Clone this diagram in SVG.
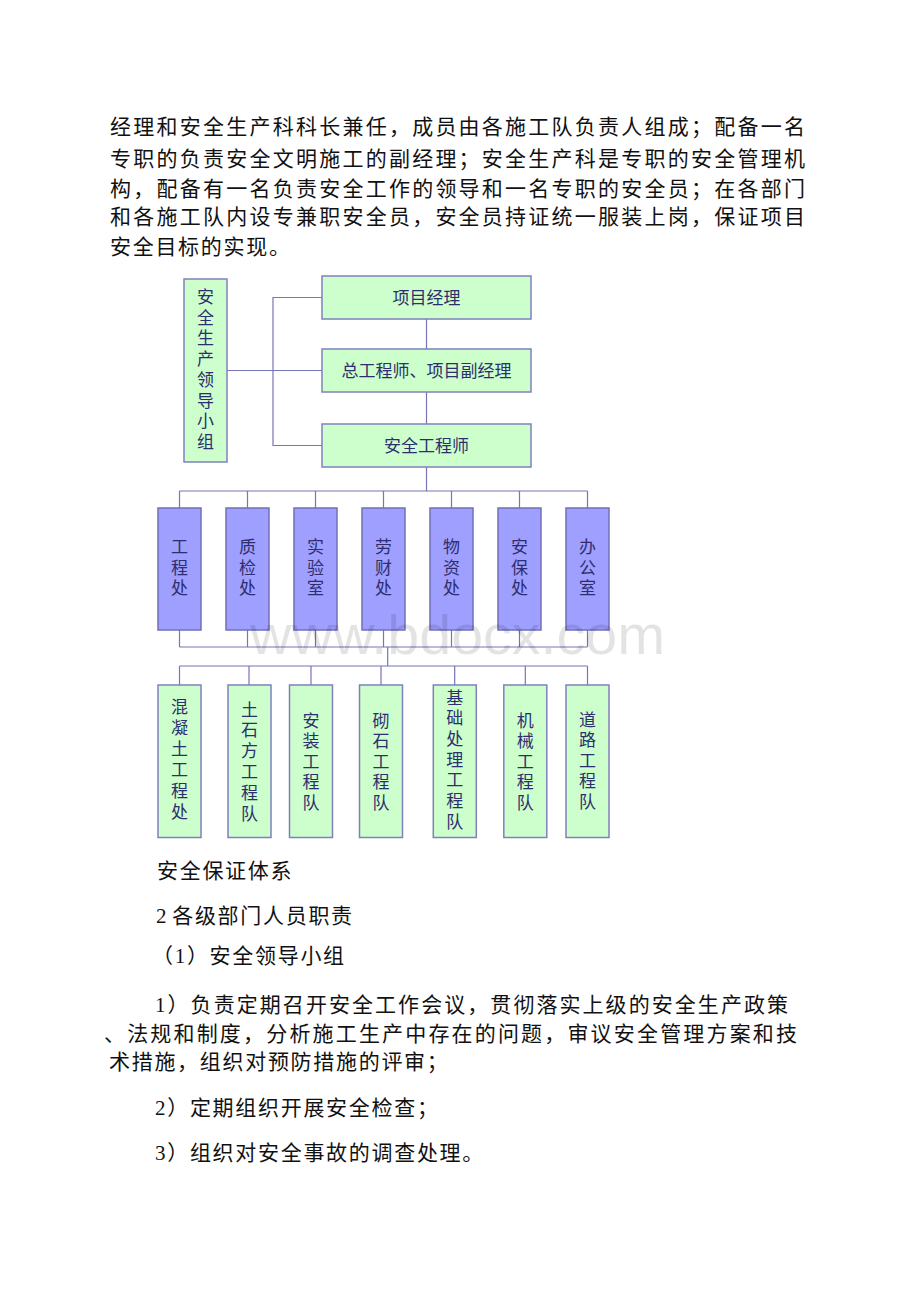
<svg xmlns="http://www.w3.org/2000/svg" width="920" height="1302" viewBox="0 0 920 1302">
<style>
.body{font-family:"Liberation Serif","Noto Sans CJK SC",serif;font-size:21px;fill:#111;letter-spacing:1.7px}
.jus{letter-spacing:0}
.lbl{font-family:"Liberation Serif","Noto Sans CJK SC",sans-serif;font-size:17px;fill:#2e2e6e;text-anchor:middle}
.g{fill:#ccffcc;stroke:#8080c0;stroke-width:1.5}
.p{fill:#9f9fff;stroke:#7070b8;stroke-width:1.5}
.ln{fill:none;stroke:#7575b8;stroke-width:1.2}
.wm{font-family:"Liberation Sans",Arial,sans-serif;font-size:56px;fill:#000;fill-opacity:0.11}
</style>
<rect width="920" height="1302" fill="#fff"/>
<g id="para-top">
<text class="body jus" x="110" y="134" textLength="695" lengthAdjust="spacing">经理和安全生产科科长兼任，成员由各施工队负责人组成；配备一名</text>
<text class="body jus" x="110" y="166" textLength="695" lengthAdjust="spacing">专职的负责安全文明施工的副经理；安全生产科是专职的安全管理机</text>
<text class="body jus" x="110" y="196" textLength="695" lengthAdjust="spacing">构，配备有一名负责安全工作的领导和一名专职的安全员；在各部门</text>
<text class="body jus" x="110" y="224" textLength="695" lengthAdjust="spacing">和各施工队内设专兼职安全员，安全员持证统一服装上岗，保证项目</text>
<text class="body" x="110" y="254">安全目标的实现。</text>
</g>
<g id="connectors">
<path class="ln" d="M426.5 319V349M426.5 392V424M426.5 467V491"/>
<path class="ln" d="M322 297.5H273V445.5H322M227 370.5H322"/>
<path class="ln" d="M179.5 491H587.5M179.5 491V508M247.5 491V508M315.5 491V508M383.5 491V508M451.5 491V508M519.5 491V508M587.5 491V508"/>
<path class="ln" d="M179.5 647H587.5M179.5 630V647M247.5 630V647M315.5 630V647M383.5 630V647M451.5 630V647M519.5 630V647M587.5 630V647"/>
<path class="ln" d="M387.7 647V666"/>
<path class="ln" d="M179.5 666H587.5M179.5 666V685M249 666V685M311 666V685M381 666V685M454.7 666V685M525.3 666V685M587.5 666V685"/>
</g>
<g id="n-lead">
<rect class="g" x="184" y="279" width="43" height="183"/>
<text class="lbl"><tspan x="205.5" y="303">安</tspan><tspan x="205.5" y="323.7">全</tspan><tspan x="205.5" y="344.4">生</tspan><tspan x="205.5" y="365.1">产</tspan><tspan x="205.5" y="385.8">领</tspan><tspan x="205.5" y="406.5">导</tspan><tspan x="205.5" y="427.2">小</tspan><tspan x="205.5" y="447.9">组</tspan></text>
</g>
<g id="n-pm">
<rect class="g" x="322" y="276" width="209" height="43"/>
<text class="lbl" x="426.5" y="304">项目经理</text>
</g>
<g id="n-chief">
<rect class="g" x="322" y="349" width="209" height="43"/>
<text class="lbl" x="426.5" y="377">总工程师、项目副经理</text>
</g>
<g id="n-safe">
<rect class="g" x="322" y="424" width="209" height="43"/>
<text class="lbl" x="426.5" y="452">安全工程师</text>
</g>
<g id="n-d1"><rect class="p" x="158" y="508" width="43" height="122"/><text class="lbl"><tspan x="179.5" y="553">工</tspan><tspan x="179.5" y="573.5">程</tspan><tspan x="179.5" y="594">处</tspan></text></g>
<g id="n-d2"><rect class="p" x="226" y="508" width="43" height="122"/><text class="lbl"><tspan x="247.5" y="553">质</tspan><tspan x="247.5" y="573.5">检</tspan><tspan x="247.5" y="594">处</tspan></text></g>
<g id="n-d3"><rect class="p" x="294" y="508" width="43" height="122"/><text class="lbl"><tspan x="315.5" y="553">实</tspan><tspan x="315.5" y="573.5">验</tspan><tspan x="315.5" y="594">室</tspan></text></g>
<g id="n-d4"><rect class="p" x="362" y="508" width="43" height="122"/><text class="lbl"><tspan x="383.5" y="553">劳</tspan><tspan x="383.5" y="573.5">财</tspan><tspan x="383.5" y="594">处</tspan></text></g>
<g id="n-d5"><rect class="p" x="430" y="508" width="43" height="122"/><text class="lbl"><tspan x="451.5" y="553">物</tspan><tspan x="451.5" y="573.5">资</tspan><tspan x="451.5" y="594">处</tspan></text></g>
<g id="n-d6"><rect class="p" x="498" y="508" width="43" height="122"/><text class="lbl"><tspan x="519.5" y="553">安</tspan><tspan x="519.5" y="573.5">保</tspan><tspan x="519.5" y="594">处</tspan></text></g>
<g id="n-d7"><rect class="p" x="566" y="508" width="43" height="122"/><text class="lbl"><tspan x="587.5" y="553">办</tspan><tspan x="587.5" y="573.5">公</tspan><tspan x="587.5" y="594">室</tspan></text></g>
<g id="n-t1"><rect class="g" x="158" y="685" width="43" height="152.5"/><text class="lbl"><tspan x="179.5" y="713">混</tspan><tspan x="179.5" y="734">凝</tspan><tspan x="179.5" y="755">土</tspan><tspan x="179.5" y="776">工</tspan><tspan x="179.5" y="797">程</tspan><tspan x="179.5" y="818">处</tspan></text></g>
<g id="n-t2"><rect class="g" x="228" y="685" width="43" height="152.5"/><text class="lbl"><tspan x="249.5" y="715.5">土</tspan><tspan x="249.5" y="736.4">石</tspan><tspan x="249.5" y="757.3">方</tspan><tspan x="249.5" y="778.2">工</tspan><tspan x="249.5" y="799.1">程</tspan><tspan x="249.5" y="820">队</tspan></text></g>
<g id="n-t3"><rect class="g" x="289.5" y="685" width="43" height="152.5"/><text class="lbl"><tspan x="311" y="726.5">安</tspan><tspan x="311" y="747">装</tspan><tspan x="311" y="767.5">工</tspan><tspan x="311" y="788">程</tspan><tspan x="311" y="808.5">队</tspan></text></g>
<g id="n-t4"><rect class="g" x="359.5" y="685" width="43" height="152.5"/><text class="lbl"><tspan x="381" y="726.5">砌</tspan><tspan x="381" y="747">石</tspan><tspan x="381" y="767.5">工</tspan><tspan x="381" y="788">程</tspan><tspan x="381" y="808.5">队</tspan></text></g>
<g id="n-t5"><rect class="g" x="433.3" y="685" width="43" height="152.5"/><text class="lbl"><tspan x="454.8" y="703.5">基</tspan><tspan x="454.8" y="724.2">础</tspan><tspan x="454.8" y="744.9">处</tspan><tspan x="454.8" y="765.6">理</tspan><tspan x="454.8" y="786.3">工</tspan><tspan x="454.8" y="807">程</tspan><tspan x="454.8" y="827.7">队</tspan></text></g>
<g id="n-t6"><rect class="g" x="503.8" y="685" width="43" height="152.5"/><text class="lbl"><tspan x="525.3" y="726.5">机</tspan><tspan x="525.3" y="747">械</tspan><tspan x="525.3" y="767.5">工</tspan><tspan x="525.3" y="788">程</tspan><tspan x="525.3" y="808.5">队</tspan></text></g>
<g id="n-t7"><rect class="g" x="566" y="685" width="43" height="152.5"/><text class="lbl"><tspan x="587.5" y="725.5">道</tspan><tspan x="587.5" y="746">路</tspan><tspan x="587.5" y="766.5">工</tspan><tspan x="587.5" y="787">程</tspan><tspan x="587.5" y="807.5">队</tspan></text></g>
<g id="para-bottom">
<text class="body" x="157" y="878">安全保证体系</text>
<text class="body" x="156" y="923">2<tspan dx="4">各级部门人员职责</tspan></text>
<text class="body" x="152" y="963">（1）安全领导小组</text>
<text class="body jus" x="155" y="1012" textLength="633" lengthAdjust="spacing">1）负责定期召开安全工作会议，贯彻落实上级的安全生产政策</text>
<text class="body jus" x="104" y="1041" textLength="693" lengthAdjust="spacing">、法规和制度，分析施工生产中存在的问题，审议安全管理方案和技</text>
<text class="body" x="109" y="1069">术措施，组织对预防措施的评审；</text>
<text class="body" x="155" y="1115">2）定期组织开展安全检查；</text>
<text class="body" x="155" y="1160">3）组织对安全事故的调查处理。</text>
</g>
<text class="wm" x="250" y="654" textLength="415" lengthAdjust="spacingAndGlyphs">www.bdocx.com</text>
</svg>
